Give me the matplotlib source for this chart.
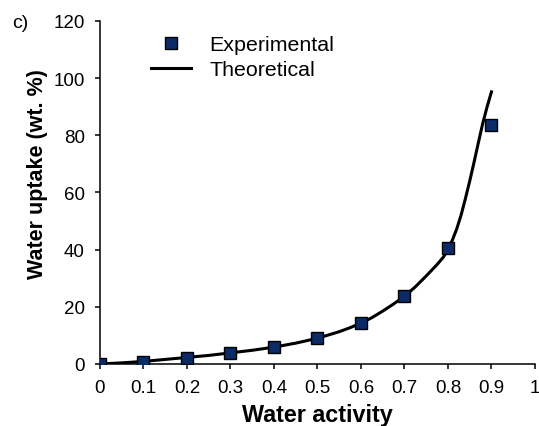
import matplotlib
matplotlib.use("Agg")
import matplotlib.pyplot as plt

# Experimental water uptake (wt. %) vs water activity
aw_exp = [0.0, 0.1, 0.2, 0.3, 0.4, 0.5, 0.6, 0.7, 0.8, 0.9]
uptake_exp = [0.0, 0.8, 2.2, 3.8, 5.8, 9.1, 14.3, 23.7, 40.5, 83.5]

# Theoretical curve
aw_theo = [0.0, 0.05, 0.1, 0.15, 0.2, 0.25, 0.3, 0.35, 0.4, 0.45, 0.5, 0.55,
           0.575, 0.6, 0.625, 0.65, 0.675, 0.7, 0.725, 0.75, 0.775, 0.79,
           0.8, 0.81, 0.82, 0.83, 0.84, 0.85, 0.86, 0.87, 0.88, 0.89, 0.9]
uptake_theo = [0.0, 0.4, 0.9, 1.6, 2.3, 3.0, 3.9, 4.8, 5.9, 7.3, 9.0, 11.3,
               12.7, 14.3, 16.2, 18.5, 21.0, 23.7, 27.0, 30.8, 34.8, 37.5,
               40.2, 43.3, 47.2, 52.0, 57.8, 64.0, 70.6, 77.5, 84.2, 90.0, 95.2]

x_ticks = [0, 0.1, 0.2, 0.3, 0.4, 0.5, 0.6, 0.7, 0.8, 0.9, 1]
x_labels = ["0", "0.1", "0.2", "0.3", "0.4", "0.5", "0.6", "0.7", "0.8", "0.9", "1"]
y_ticks = [0, 20, 40, 60, 80, 100, 120]

plt.rcParams["font.family"] = ["Liberation Sans", "DejaVu Sans"]

fig = plt.figure(figsize=(5.39, 4.27), dpi=100)
ax = fig.add_axes([0.1855, 0.1452, 0.807, 0.8033])

ax.plot(aw_exp, uptake_exp, linestyle="none", marker="s", markersize=8.5,
        markerfacecolor="#0b2a66", markeredgecolor="black", markeredgewidth=1,
        label="Experimental", zorder=3)
ax.plot(aw_theo, uptake_theo, color="black", linewidth=2.2, solid_joinstyle="round",
        label="Theoretical", zorder=2)

ax.set_xlim(0, 1)
ax.set_ylim(0, 120)
ax.set_xticks(x_ticks)
ax.set_xticklabels(x_labels)
ax.set_yticks(y_ticks)
ax.tick_params(direction="out", length=3.8, width=1.1, labelsize=13.5, colors="black")
ax.tick_params(axis="x", pad=7)
ax.tick_params(axis="y", pad=7)
for side in ["top", "right"]:
    ax.spines[side].set_visible(False)
for side in ["left", "bottom"]:
    ax.spines[side].set_linewidth(1.1)

ax.set_xlabel("Water activity", fontsize=16.8, fontweight="bold", labelpad=5)
ax.set_ylabel("Water uptake (wt. %)", fontsize=15.5, fontweight="bold")
ax.yaxis.set_label_coords(-0.12, 0.557)

ax.legend(loc="upper left", bbox_to_anchor=(0.072, 1.015), frameon=False,
          fontsize=15.4, handlelength=1.9, handletextpad=0.85, labelspacing=0.29)

fig.text(0.022, 0.945, "c)", fontsize=14, va="center", ha="left")

fig.savefig("out.png", dpi=100)
